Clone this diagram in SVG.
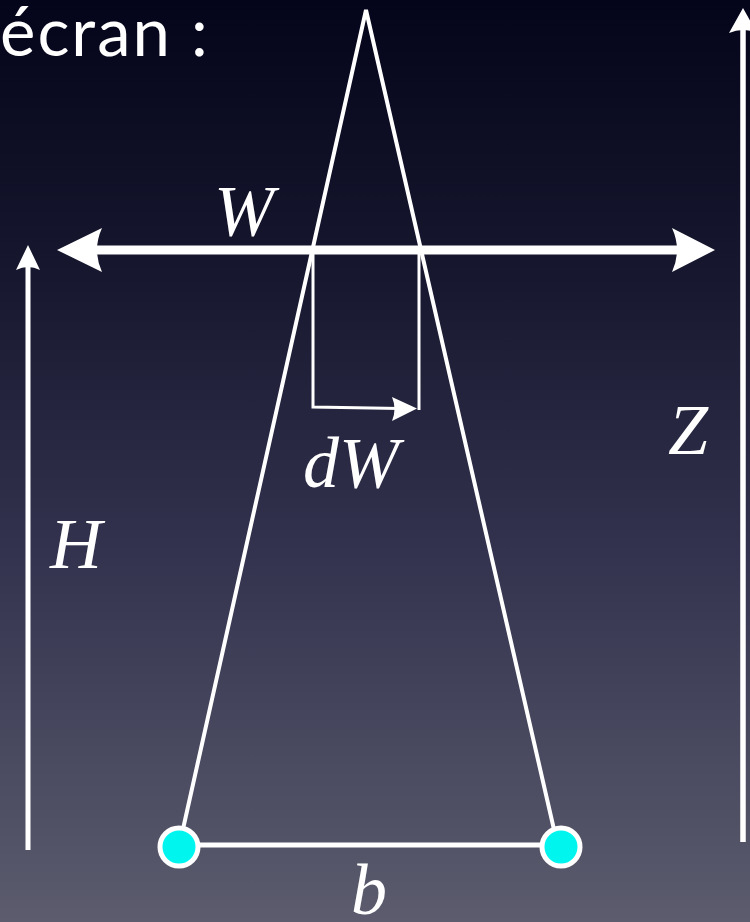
<svg xmlns="http://www.w3.org/2000/svg" width="750" height="922" viewBox="0 0 750 922">
<defs>
<linearGradient id="bg" x1="0" y1="0" x2="0" y2="1">
<stop offset="0" stop-color="#04041a"/>
<stop offset="0.3" stop-color="#17172f"/>
<stop offset="0.6" stop-color="#33334f"/>
<stop offset="1" stop-color="#5c5c6e"/>
</linearGradient>
<style>
.ln{stroke:#fff;fill:none;stroke-linecap:butt}
.hd{fill:#fff;stroke:none}
.math{font-family:"Liberation Serif","Times New Roman",serif;font-style:italic;font-size:72px;fill:#fff}
.title{font-family:Lato,"Open Sans",sans-serif;font-size:67px;letter-spacing:2px;fill:#fff}
.pt{fill:#00f5ee;stroke:#fff;stroke-width:5}
</style>
</defs>
<rect width="750" height="922" fill="url(#bg)"/>
<text class="title" x="0" y="56">écran :</text>
<g id="connectors">
<polyline class="ln" stroke-width="4" points="179,847 366,10 558,847"/>
<line class="ln" stroke-width="5" x1="179" y1="845" x2="561" y2="845"/>
<line class="ln" stroke-width="9" x1="90" y1="250" x2="682" y2="250"/>
<path class="hd" d="M57,250 L102,228 Q92,250 102,272 Z"/>
<path class="hd" d="M715,250 L672,228 Q682,250 672,272 Z"/>
<polyline class="ln" stroke-width="3" points="313,250 313,407 400,408.5"/>
<line class="ln" stroke-width="3" x1="419" y1="250" x2="419" y2="410"/>
<path class="hd" d="M417,408.5 L392,397 Q397,409 392,421 Z"/>
<line class="ln" stroke-width="5" x1="28" y1="850" x2="28" y2="262"/>
<path class="hd" d="M28,245 L16,270 Q28,264 40,270 Z"/>
<line class="ln" stroke-width="5.5" x1="743" y1="842" x2="743" y2="28"/>
<path class="hd" d="M743,8 L729,33 Q743,27 757,33 Z"/>
</g>
<g id="labels">
<text class="math" x="214" y="235">W</text>
<text class="math" x="303" y="487">dW</text>
<text class="math" x="668" y="454">Z</text>
<text class="math" x="50" y="568">H</text>
<text class="math" x="351" y="914">b</text>
</g>
<g id="pointA"><circle class="pt" cx="179" cy="847" r="19"/></g>
<g id="pointB"><circle class="pt" cx="561" cy="847" r="19"/></g>
</svg>
